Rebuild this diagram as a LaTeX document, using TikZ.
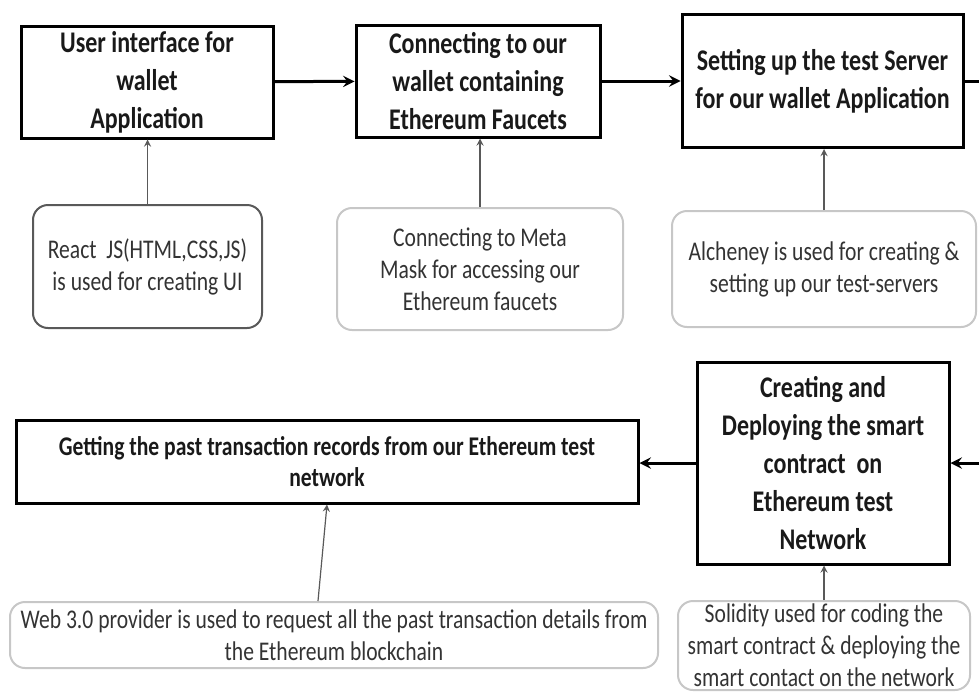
\documentclass[tikz,border=0pt]{standalone}
\usepackage{fontspec}
\setmainfont{Carlito}[FakeStretch=0.8]
\usetikzlibrary{arrows}

\begin{document}
\begin{tikzpicture}[x=0.5pt,y=-0.5pt,->,>=stealth,
    main node/.style={draw=black,line width=1.5pt,align=center,inner sep=0pt,text=black!90,font=\bfseries\fontsize{15}{19}\selectfont},
    tool node/.style={draw=black!22,line width=1pt,rounded corners=7.5pt,align=center,inner sep=0pt,text=black!80,font=\fontsize{13.5}{16}\selectfont},
    flow/.style={->,line width=1.5pt},
    feed/.style={->,draw=black!65,line width=0.6pt}]

            \useasboundingbox (0,0) rectangle (979,691);

            \node[main node, minimum width=126pt, minimum height=56pt] (1) at (147,82) {User interface for\\ wallet\\ Application};
            \node[main node, minimum width=122pt, minimum height=56pt] (2) at (478,81) {Connecting to our\\ wallet containing\\ Ethereum Faucets};
            \node[main node, minimum width=140.5pt, minimum height=66.5pt] (3) at (822.5,81) {Setting up the test Server\\ for our wallet Application};
            \node[main node, minimum width=126pt, minimum height=101pt] (4) at (823,463) {Creating and\\ Deploying the smart\\ contract~~on\\ Ethereum test\\ Network};
            \node[main node, minimum width=311pt, minimum height=41.5pt, font=\bfseries\fontsize{13.5}{15.5}\selectfont] (5) at (327,461.5) {Getting the past transaction records from our Ethereum test\\ network};

            \node[tool node, draw=black!65, minimum width=114.5pt, minimum height=61.5pt] (a) at (147.5,266.5) {React~~JS(HTML,CSS,JS)\\ is used for creating UI};
            \node[tool node, minimum width=143pt, minimum height=61pt] (b) at (480,269) {Connecting to Meta\\ Mask for accessing our\\ Ethereum faucets};
            \node[tool node, minimum width=152pt, minimum height=58pt] (c) at (824,269) {Alcheney is used for creating \&\\ setting up our test-servers};
            \node[tool node, minimum width=324pt, minimum height=33pt] (d) at (334,635) {Web 3.0 provider is used to request all the past transaction details from\\ the Ethereum blockchain};
            \node[tool node, minimum width=146pt, minimum height=44.5pt] (e) at (824,645.5) {Solidity used for coding the\\ smart contract \& deploying the\\ smart contact on the network};

            \coordinate (out) at (979,81);
            \coordinate (in) at (979,463);

            \draw[flow] (1) to (2);
            \draw[flow] (2) to (3);
            \draw[flow,-] (3.east) to (out);
            \draw[flow] (in) to (4.east |- in);
            \draw[flow] (4.west) to (4.west -| 5.east);

            \draw[feed] (a.north) to (a.north |- 1.south);
            \draw[feed] (b.north) to (b.north |- 2.south);
            \draw[feed] (c.north) to (c.north |- 3.south);
            \draw[feed] ([xshift=-8pt]d.north) to (5.south);
            \draw[feed] (e.north) to (e.north |- 4.south);

            ;
        \end{tikzpicture}
\end{document}
